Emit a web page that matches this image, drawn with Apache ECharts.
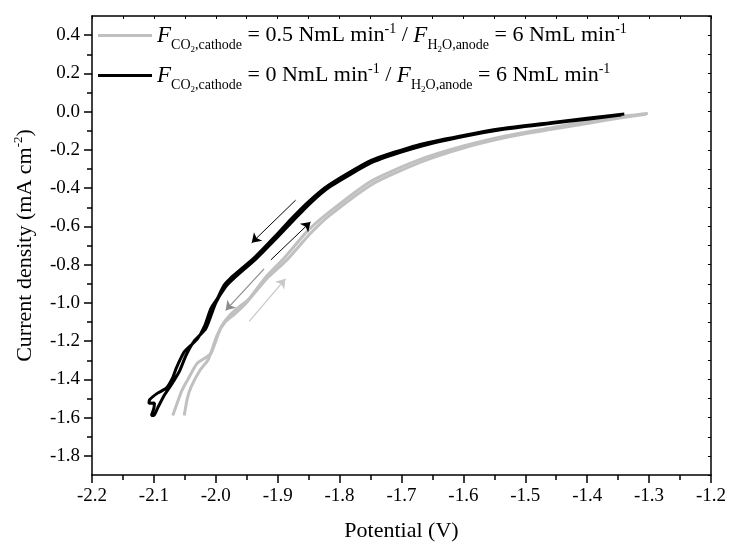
<!DOCTYPE html>
<html>
<head>
<meta charset="utf-8">
<script src="https://cdn.jsdelivr.net/npm/echarts@6/dist/echarts.min.js"></script>
<style>
  html, body { margin: 0; padding: 0; background: #fff; }
  #chart { width: 729px; height: 547px; }
</style>
</head>
<body>
<div id="chart"></div>
<script>
// potential (V) and current density (mA cm-2)
// grey run: cathodic and anodic branches of the CV scan
var greyForwardPotential = [-1.302, -1.35, -1.40, -1.465, -1.53, -1.60, -1.674, -1.75, -1.818, -1.852, -1.888, -1.920, -1.948, -1.962, -1.976, -1.992, -2.008, -2.030, -2.045, -2.055, -2.0695];
var greyForwardCurrent = [-0.010, -0.027, -0.050, -0.088, -0.126, -0.180, -0.255, -0.365, -0.528, -0.625, -0.760, -0.868, -0.985, -1.02, -1.06, -1.13, -1.265, -1.316, -1.40, -1.46, -1.589];
var greyReversePotential = [-2.051, -2.046, -2.040, -2.025, -2.012, -1.998, -1.985, -1.970, -1.952, -1.930, -1.915, -1.885, -1.848, -1.815, -1.745, -1.67, -1.60, -1.53, -1.46, -1.40, -1.35, -1.305];
var greyReverseCurrent = [-1.589, -1.50, -1.44, -1.35, -1.295, -1.17, -1.10, -1.06, -1.005, -0.92, -0.865, -0.775, -0.640, -0.540, -0.375, -0.265, -0.190, -0.134, -0.094, -0.062, -0.035, -0.014];

// black run: one closed loop
var blackPotential = [-1.340, -1.40, -1.46, -1.54, -1.60, -1.674, -1.749, -1.818, -1.850, -1.878, -1.905, -1.938, -1.958, -1.976, -1.986, -1.992, -1.997, -2.008, -2.018, -2.030, -2.043, -2.051, -2.064, -2.070, -2.080, -2.094, -2.107, -2.108, -2.099, -2.100, -2.104,
  -2.100, -2.094, -2.083, -2.072, -2.059, -2.048, -2.035, -2.016, -2.000, -1.985, -1.970, -1.935, -1.902, -1.875, -1.847, -1.815, -1.745, -1.670, -1.60, -1.54, -1.46, -1.40, -1.345];
var blackCurrent = [-0.012, -0.035, -0.058, -0.090, -0.125, -0.175, -0.255, -0.385, -0.470, -0.560, -0.655, -0.765, -0.82, -0.870, -0.905, -0.94, -0.975, -1.03, -1.12, -1.19, -1.230, -1.256, -1.342, -1.394, -1.446, -1.472, -1.507, -1.525, -1.524, -1.55, -1.589,
  -1.589, -1.55, -1.482, -1.429, -1.359, -1.274, -1.20, -1.134, -1.00, -0.92, -0.87, -0.770, -0.662, -0.570, -0.478, -0.392, -0.262, -0.182, -0.130, -0.095, -0.062, -0.040, -0.018];

// scan direction arrows: [fromV, fromJ, toV, toJ]
var greyArrowDown = [-1.922, -0.822, -1.984, -1.039];
var greyArrowUp = [-1.946, -1.097, -1.8875, -0.874];
var blackArrowDown = [-1.871, -0.463, -1.942, -0.686];
var blackArrowUp = [-1.911, -0.775, -1.847, -0.577];

var yMajorTicks = [-1.8, -1.6, -1.4, -1.2, -1.0, -0.8, -0.6, -0.4, -0.2, 0.0, 0.2, 0.4];
var yMinorTicks = [-1.7, -1.5, -1.3, -1.1, -0.9, -0.7, -0.5, -0.3, -0.1, 0.1, 0.3];

var seriesNames = ['CO2 0.5', 'CO2 0'];
var flows = ['0.5', '0'];

var FONT = 'Liberation Serif';
var GREY = '#c0c0c0';

function zip(a, b) {
  return a.map(function (v, i) { return [v, b[i]]; });
}

function arrow(a, color, width) {
  return [
    { coord: [a[0], a[1]], lineStyle: { color: color, width: width, type: 'solid' }, itemStyle: { color: color } },
    { coord: [a[2], a[3]], itemStyle: { color: color } }
  ];
}

function legendText(flow) {
  return '{i|F}{s|CO}{ss|2}{s|,cathode}{t| = ' + flow + ' NmL min}{p|-1}{t| / }' +
    '{i|F}{s|H}{ss|2}{s|O,anode}{t| = 6 NmL min}{p|-1}';
}

var chartDom = document.getElementById('chart');
var myChart = echarts.init(chartDom);

var axisLine = { onZero: false, lineStyle: { color: '#000', width: 1.5 } };

var option = {
  animation: false,
  backgroundColor: '#fff',
  grid: { left: 92, right: 14, top: 16, bottom: 70 },
  legend: {
    data: seriesNames,
    orient: 'vertical',
    left: 98,
    top: 17,
    padding: 0,
    itemGap: 3,
    itemWidth: 54,
    itemHeight: 3,
    icon: 'rect',
    selectedMode: false,
    formatter: function (name) {
      return legendText(flows[seriesNames.indexOf(name)]);
    },
    textStyle: {
      fontFamily: FONT,
      color: '#000',
      rich: {
        t: { fontFamily: FONT, fontSize: 22, lineHeight: 30, color: '#000' },
        i: { fontFamily: FONT, fontSize: 23, fontStyle: 'italic', lineHeight: 30, color: '#000' },
        s: { fontFamily: FONT, fontSize: 14, lineHeight: 14, padding: [19, 0, 0, 0], color: '#000' },
        ss: { fontFamily: FONT, fontSize: 9, lineHeight: 9, padding: [28, 0, 0, 0], color: '#000' },
        p: { fontFamily: FONT, fontSize: 14, lineHeight: 14, padding: [0, 0, 13, 0], color: '#000' }
      }
    }
  },
  xAxis: [
    {
      type: 'value',
      position: 'bottom',
      min: -2.2,
      max: -1.2,
      interval: 0.1,
      name: 'Potential (V)',
      nameLocation: 'middle',
      nameGap: 45,
      nameTextStyle: { fontFamily: FONT, fontSize: 22, color: '#000' },
      axisLine: axisLine,
      axisTick: { length: 8, lineStyle: { color: '#000', width: 1.5 } },
      minorTick: { show: true, splitNumber: 2, length: 5, lineStyle: { color: '#000', width: 1.5 } },
      axisLabel: {
        margin: 12,
        fontFamily: FONT,
        fontSize: 19,
        color: '#000',
        formatter: function (v) { return v.toFixed(1); }
      },
      splitLine: { show: false }
    },
    {
      type: 'value',
      position: 'top',
      min: -2.2,
      max: -1.2,
      interval: 0.05,
      axisLine: axisLine,
      axisTick: { inside: true, length: 3, lineStyle: { color: '#000', width: 1 } },
      axisLabel: { show: false },
      splitLine: { show: false }
    }
  ],
  yAxis: [
    {
      type: 'value',
      position: 'left',
      min: -1.9,
      max: 0.5,
      name: '{n|Current density (mA cm}{p|-2}{n|)}',
      nameLocation: 'middle',
      nameGap: 52,
      nameTextStyle: {
        rich: {
          n: { fontFamily: FONT, fontSize: 22, lineHeight: 26, color: '#000' },
          p: { fontFamily: FONT, fontSize: 13, lineHeight: 14, padding: [0, 0, 14, 0], color: '#000' }
        }
      },
      axisLine: axisLine,
      axisTick: { length: 8, customValues: yMajorTicks, lineStyle: { color: '#000', width: 1.5 } },
      axisLabel: {
        margin: 12,
        fontFamily: FONT,
        fontSize: 19,
        color: '#000',
        customValues: yMajorTicks,
        formatter: function (v) { return v.toFixed(1); }
      },
      splitLine: { show: false }
    },
    {
      type: 'value',
      position: 'left',
      min: -1.9,
      max: 0.5,
      axisLine: { show: false, onZero: false },
      axisTick: { length: 5, customValues: yMinorTicks, lineStyle: { color: '#000', width: 1.5 } },
      axisLabel: { show: false },
      splitLine: { show: false }
    },
    {
      type: 'value',
      position: 'right',
      min: -1.9,
      max: 0.5,
      interval: 0.1,
      axisLine: axisLine,
      axisTick: { inside: true, length: 3, lineStyle: { color: '#000', width: 1 } },
      axisLabel: { show: false },
      splitLine: { show: false }
    }
  ],
  series: [
    {
      name: seriesNames[0],
      type: 'line',
      data: zip(greyForwardPotential, greyForwardCurrent),
      symbol: 'none',
      smooth: 0.2,
      color: GREY,
      lineStyle: { color: GREY, width: 3 },
      z: 2,
      markLine: {
        silent: true,
        symbol: ['none', 'arrow'],
        symbolSize: 9,
        label: { show: false },
        data: [arrow(greyArrowDown, '#8c8c8c', 1.2), arrow(greyArrowUp, '#c8c8c8', 1.2)]
      }
    },
    {
      name: seriesNames[0],
      type: 'line',
      data: zip(greyReversePotential, greyReverseCurrent),
      symbol: 'none',
      smooth: 0.2,
      color: GREY,
      lineStyle: { color: GREY, width: 3 },
      z: 2
    },
    {
      name: seriesNames[1],
      type: 'line',
      data: zip(blackPotential, blackCurrent),
      symbol: 'none',
      smooth: 0.2,
      color: '#000',
      lineStyle: { color: '#000', width: 3 },
      z: 3,
      markLine: {
        silent: true,
        symbol: ['none', 'arrow'],
        symbolSize: 9,
        label: { show: false },
        data: [arrow(blackArrowDown, '#000', 1), arrow(blackArrowUp, '#000', 1)]
      }
    }
  ]
};

myChart.setOption(option);
window.addEventListener('resize', () => myChart.resize());
</script>
</body>
</html>
